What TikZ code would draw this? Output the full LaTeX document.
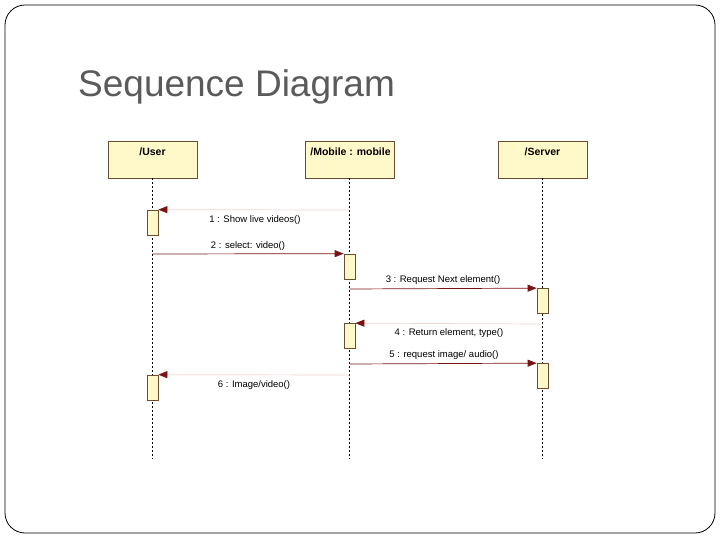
\documentclass[tikz,border=0pt]{standalone}
\usepackage{fontspec}
\setmainfont{Liberation Sans}
\usetikzlibrary{arrows.meta}
\definecolor{headfill}{HTML}{FFF8C8}
\definecolor{headdraw}{HTML}{6B4E2E}
\definecolor{msgred}{HTML}{7A1414}
\definecolor{retpink}{HTML}{F2D4D4}
\definecolor{titlegray}{HTML}{5A5A5A}
\tikzset{
  headbox/.style={draw=headdraw, fill=headfill, line width=0.8pt, minimum width=89pt, minimum height=37pt, inner sep=0pt},
  headlabel/.style={font=\bfseries\fontsize{10.5}{12}\selectfont, inner sep=0pt},
  actbox/.style={draw=headdraw, fill=headfill, line width=0.7pt, minimum width=11pt, minimum height=25pt, inner sep=0pt},
  lifeline/.style={draw=black, line width=0.6pt, dash pattern=on 2pt off 2pt},
  callmsg/.style={draw=msgred, line width=0.7pt, -{Triangle[length=9pt,width=7pt]}},
  retmsg/.style={draw=retpink, line width=0.7pt, -{Triangle[length=9pt,width=7pt,fill=msgred,color=msgred]}},
  msglabel/.style={font=\fontsize{9.5}{11}\selectfont, inner sep=0pt},
}
\begin{document}
\begin{tikzpicture}[x=1pt,y=-1pt]
\useasboundingbox (0,0) rectangle (720,540);
\fill[white] (0,0) rectangle (720,540);
\draw[line width=0.8pt, rounded corners=20pt] (5,5) rectangle (715,533);
\node[anchor=base west, text=titlegray, font=\fontsize{37}{40}\selectfont, inner sep=0pt] (title) at (78,97) {Sequence Diagram};

% heads
\node[headbox] (user) at (152.5,159.5) {};
\node[headbox] (mobile) at (349.5,159.5) {};
\node[headbox] (server) at (542.5,159.5) {};
\node[headlabel] (userlbl) at (152.5,152) {/User};
\node[headlabel] (mobilelbl) at (350.5,152) {/Mobile : mobile};
\node[headlabel] (serverlbl) at (542.5,152) {/Server};

% lifeline ends
\coordinate (uend) at (152.5,459);
\coordinate (mend) at (349.5,459);
\coordinate (send) at (542.5,459);
\draw[lifeline] (user.south) -- (uend);
\draw[lifeline] (mobile.south) -- (mend);
\draw[lifeline] (server.south) -- (send);

% activations
\node[actbox] (ua1) at (152.5,222.5) {};
\node[actbox] (ma1) at (349.5,266.5) {};
\node[actbox] (sa1) at (542.5,301) {};
\node[actbox] (ma2) at (349.5,336) {};
\node[actbox] (sa2) at (542.5,376) {};
\node[actbox] (ua2) at (152.5,387.5) {};

% message endpoints on lifelines
\coordinate (m1s) at (349.5,210);
\coordinate (m2s) at (152.5,254);
\coordinate (m3s) at (349.5,289);
\coordinate (m4s) at (542.5,324);
\coordinate (m5s) at (349.5,364);
\coordinate (m6s) at (349.5,375);

\draw[retmsg] (m1s) -- (ua1.north east);
\draw[callmsg] (m2s) -- (ma1.north west);
\draw[callmsg] (m3s) -- (sa1.north west);
\draw[retmsg] (m4s) -- (ma2.north east);
\draw[callmsg] (m5s) -- (sa2.north west);
\draw[retmsg] (m6s) -- (ua2.north east);

\node[msglabel] (l1) at (255,220) {1 : Show live videos()};
\node[msglabel] (l2) at (248,246) {2 : select: video()};
\node[msglabel] (l3) at (443,280) {3 : Request Next element()};
\node[msglabel] (l4) at (449,333) {4 : Return element, type()};
\node[msglabel] (l5) at (444,355) {5 : request image/ audio()};
\node[msglabel] (l6) at (254,385) {6 : Image/video()};
\end{tikzpicture}
\end{document}
